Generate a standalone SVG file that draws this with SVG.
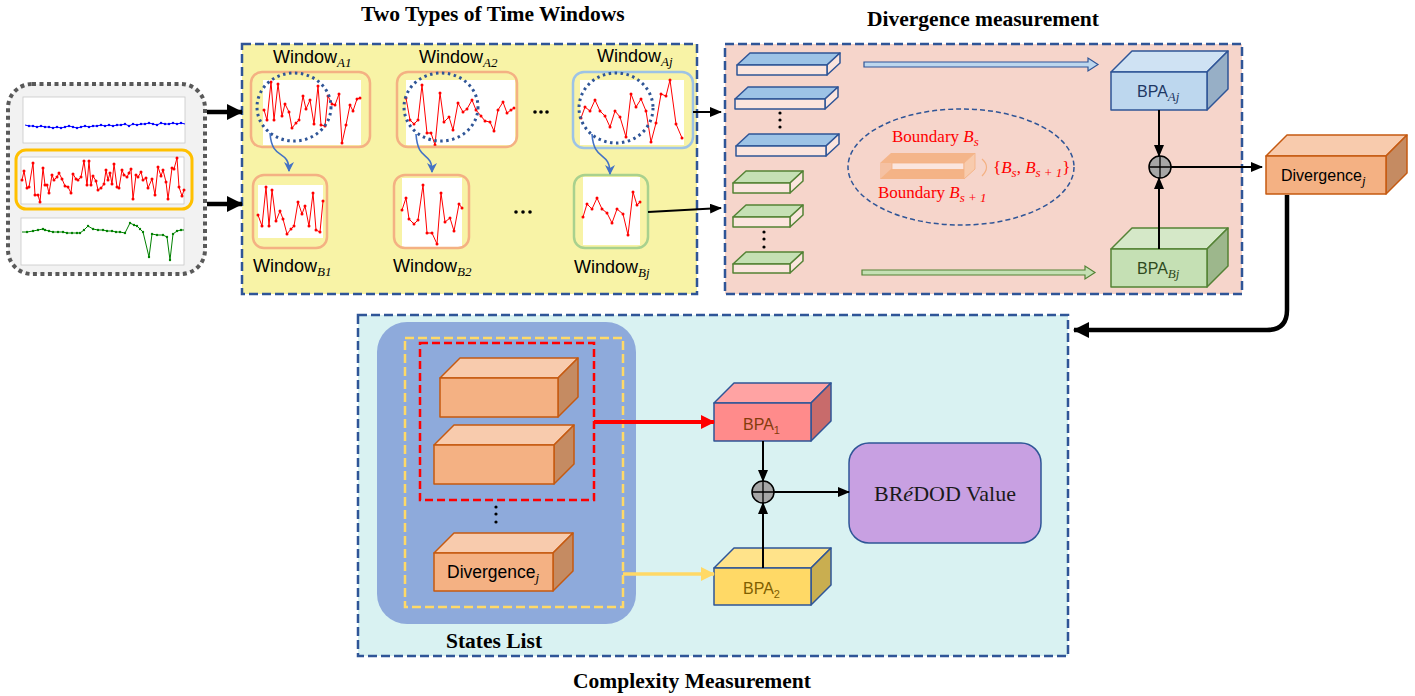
<svg xmlns="http://www.w3.org/2000/svg" width="1415" height="696" viewBox="0 0 1415 696">
  <style>
    .title { font-family: "Liberation Serif", "Times New Roman", serif; font-weight: bold; font-size: 21.5px; fill: #000; }
    .wlabel { font-family: "Liberation Sans", Arial, sans-serif; font-size: 18px; fill: #000; }
    .sub { font-family: "Liberation Serif", serif; font-style: italic; font-size: 13px; }
    .frame { fill: none; stroke: #2f5597; stroke-width: 2.5; stroke-dasharray: 9 4; }
    .win { fill: none; stroke: #f4b183; stroke-width: 2.5; }
    .chart { fill: #fff; }
    .grid { fill: #fff; stroke: #c8c8c8; stroke-width: 0.8; }
    .sig { fill: none; stroke: #ff0000; stroke-width: 1; marker-start: url(#dotR); marker-mid: url(#dotR); marker-end: url(#dotR); }
    .circ { fill: none; stroke: #2f5597; stroke-width: 3; stroke-dasharray: 2.5 3.5; }
    .bcurve { fill: none; stroke: #4472c4; stroke-width: 1.6; marker-end: url(#ahBlue); }
    .link { fill: none; stroke: #000; stroke-width: 2; marker-end: url(#ah); }
    .thick { fill: none; stroke: #000; stroke-width: 4.5; }
    .bpa { font-family: "Liberation Sans", Arial, sans-serif; font-size: 16px; }
    .bpa-lg { font-size: 17.5px; }
    .red { font-family: "Liberation Serif", "Times New Roman", serif; font-size: 17px; fill: #ff0000; }
    .plus { fill: #a6a6a6; stroke: #000; stroke-width: 1.5; }
  </style>
  <defs>
    <marker id="ah" markerUnits="userSpaceOnUse" markerWidth="12" markerHeight="10" refX="11" refY="5" orient="auto">
      <path d="M0,0 L12,5 L0,10 Z" fill="#000"/>
    </marker>
    <marker id="ahBig" markerUnits="userSpaceOnUse" markerWidth="16" markerHeight="16" refX="15" refY="8" orient="auto">
      <path d="M0,0 L16,8 L0,16 Z" fill="#000"/>
    </marker>
    <marker id="ahRed" markerUnits="userSpaceOnUse" markerWidth="14" markerHeight="14" refX="13" refY="7" orient="auto">
      <path d="M0,0 L14,7 L0,14 Z" fill="#ff0000"/>
    </marker>
    <marker id="ahYel" markerUnits="userSpaceOnUse" markerWidth="14" markerHeight="14" refX="13" refY="7" orient="auto">
      <path d="M0,0 L14,7 L0,14 Z" fill="#ffd966"/>
    </marker>
    <marker id="ahBlue" markerUnits="userSpaceOnUse" markerWidth="10" markerHeight="10" refX="5" refY="9" orient="0">
      <path d="M0,0 L5,10 L10,0 L5,3 Z" fill="#4472c4"/>
    </marker>
    <marker id="dotR" markerUnits="userSpaceOnUse" markerWidth="4" markerHeight="4" refX="2" refY="2">
      <circle cx="2" cy="2" r="1.5" fill="#ff0000"/>
    </marker>
    <marker id="dotB" markerUnits="userSpaceOnUse" markerWidth="4" markerHeight="4" refX="2" refY="2">
      <circle cx="2" cy="2" r="1.2" fill="#0000ff"/>
    </marker>
    <marker id="dotG" markerUnits="userSpaceOnUse" markerWidth="4" markerHeight="4" refX="2" refY="2">
      <circle cx="2" cy="2" r="1.2" fill="#008000"/>
    </marker>
  </defs>

  <rect width="1415" height="696" fill="#fff"/>

  <!-- input signals -->
  <g id="signals">
    <rect x="8" y="84" width="197" height="190" rx="24" fill="#f2f2f2" stroke="#595959" stroke-width="4" stroke-dasharray="4 3.5"/>
    <rect class="grid" x="23" y="97" width="162" height="46"/>
    <polyline fill="none" stroke="#0000ff" stroke-width="1" marker-mid="url(#dotB)" points="25,125 29,126 33,126 37,127 41,126 45,127 49,127 53,128 57,127 61,128 65,127 69,126 73,127 77,128 81,127 85,126 89,127 93,126 97,126 101,125 105,126 109,125 113,126 117,125 121,125 125,124 129,126 133,124 137,125 141,124 145,124 149,123 153,124 157,125 161,123 165,124 169,124 173,123 177,124 181,123 185,124"/>
    <rect x="16" y="150" width="176" height="59" rx="10" fill="none" stroke="#ffc000" stroke-width="3"/>
    <rect class="grid" x="21" y="157" width="163" height="47"/>
    <polyline class="sig" points="22,180 24,171 27,188 29,187 33,163 35,195 38,195 40,202 43,168 45,185 47,185 49,193 52,175 54,180 57,177 59,173 62,179 65,186 68,187 71,193 73,174 76,179 78,180 81,177 84,161 87,185 89,161 91,185 93,176 96,181 98,190 101,188 104,184 106,170 108,180 110,173 112,184 114,164 117,187 119,188 122,170 124,175 127,177 129,173 131,169 133,199 136,175 138,177 141,172 143,180 146,178 148,188 152,179 155,195 158,167 161,176 163,170 166,182 168,199 172,168 174,169 177,158 179,187 182,196 184,190"/>
    <rect class="grid" x="21" y="218" width="163" height="47"/>
    <polyline fill="none" stroke="#008000" stroke-width="1" marker-mid="url(#dotG)" points="22,232 27,232 33,231 38,230 43,229 45,230 49,231 53,232 58,232 63,232 67,233 72,233 77,233 80,233 84,230 88,226 93,229 98,230 103,230 107,231 112,231 116,232 120,232 125,233 130,223 134,225 137,226 140,229 143,232 149,257 152,234 157,235 163,235 167,237 170,260 173,234 177,231 181,230 184,230"/>
  </g>

  <!-- panel: two types of time windows -->
  <g id="time-windows">
    <rect x="242" y="44" width="455" height="250" fill="#f8f3a6"/>
    <rect class="frame" x="242" y="44" width="455" height="250"/>
    <text class="title" x="361" y="21">Two Types of Time Windows</text>
  </g>

  <g id="window-a1">
    <text class="wlabel" x="273" y="63">Window<tspan class="sub" dy="4">A1</tspan></text>
    <rect class="chart" x="263" y="80" width="98" height="65"/>
    <polyline class="sig" points="264,110 267,120 271,82 274,120 278,84 282,116 285,104 289,112 292,128 296,123 299,120 303,96 306,109 310,100 314,124 318,86 321,125 325,126 328,96 332,104 335,105 339,94 342,143 346,125 350,105 353,111 357,99 360,98"/>
    <rect class="win" x="251" y="72" width="119" height="75" rx="11"/>
    <ellipse class="circ" cx="294" cy="107" rx="37" ry="34"/>
  </g>
  <g id="window-a2">
    <text class="wlabel" x="419" y="63">Window<tspan class="sub" dy="4">A2</tspan></text>
    <rect class="chart" x="406" y="80" width="109" height="65"/>
    <polyline class="sig" points="406,98 410,120 414,124 418,120 422,85 427,133 431,133 435,145 440,93 444,122 449,117 453,130 458,103 463,112 467,109 472,100 476,110 481,116 485,121 490,122 494,131 498,110 503,102 507,113 511,110 514,108"/>
    <rect class="win" x="397" y="72" width="120" height="75" rx="11"/>
    <ellipse class="circ" cx="441" cy="107" rx="37" ry="34"/>
  </g>
  <g id="window-aj">
    <text class="wlabel" x="597" y="62">Window<tspan class="sub" dy="4">Aj</tspan></text>
    <rect class="chart" x="580" y="80" width="104" height="65"/>
    <polyline class="sig" points="581,118 585,107 590,111 595,100 600,111 605,116 610,127 615,111 620,117 626,137 631,94 636,107 641,99 646,111 651,142 656,123 661,94 666,96 670,80 676,124 682,138"/>
    <rect x="573" y="72" width="120" height="76" rx="11" fill="none" stroke="#9dc3e6" stroke-width="2.5"/>
    <ellipse class="circ" cx="616" cy="108" rx="37" ry="35"/>
  </g>
  <g id="window-b1">
    <rect class="chart" x="258" y="185" width="65" height="53"/>
    <polyline class="sig" points="258,215 262,226 266,187 269,226 272,190 276,221 280,211 283,219 287,234 291,229 294,226 298,202 302,214 305,206 309,226 313,193 316,230 320,232 323,201"/>
    <rect class="win" x="253" y="175" width="74" height="73" rx="11"/>
    <text class="wlabel" x="253" y="272">Window<tspan class="sub" dy="4">B1</tspan></text>
  </g>
  <g id="window-b2">
    <rect class="chart" x="402" y="178" width="60" height="69"/>
    <polyline class="sig" points="402,210 406,198 409,219 414,224 418,220 423,185 427,233 432,233 437,244 441,193 445,222 450,218 454,231 459,204 462,208"/>
    <rect class="win" x="394" y="175" width="75" height="73" rx="11"/>
    <text class="wlabel" x="393" y="272">Window<tspan class="sub" dy="4">B2</tspan></text>
  </g>
  <g id="window-bj">
    <rect class="chart" x="583" y="177" width="57" height="68"/>
    <polyline class="sig" points="583,217 587,204 592,209 597,198 602,209 607,213 612,223 617,209 623,214 628,235 633,192 637,205 640,202"/>
    <rect x="574" y="175" width="74" height="73" rx="11" fill="none" stroke="#a9d18e" stroke-width="2.5"/>
    <text class="wlabel" x="574" y="273">Window<tspan class="sub" dy="4">Bj</tspan></text>
  </g>
  <g id="ellipsis-windows" fill="#000">
    <circle cx="535" cy="112" r="1.8"/><circle cx="541" cy="112" r="1.8"/><circle cx="547" cy="112" r="1.8"/>
    <circle cx="516" cy="212" r="1.8"/><circle cx="523" cy="212" r="1.8"/><circle cx="530" cy="212" r="1.8"/>
  </g>

  <!-- panel: divergence measurement -->
  <g id="divergence-panel">
    <rect x="725" y="44" width="517" height="250" fill="#f6d5cb"/>
    <rect class="frame" x="725" y="44" width="517" height="250"/>
    <text class="title" x="867" y="26">Divergence measurement</text>
  </g>

  <g id="states-a" stroke="#2f5597" stroke-width="1.5" stroke-linejoin="round">
    <path d="M737,65 L750,53 L840,53 L827,65 Z" fill="#9dc3e6"/>
    <path d="M827,65 L840,53 L840,63 L827,75 Z" fill="#fbe5de"/>
    <rect x="737" y="65" width="90" height="10" fill="#fbe5de"/>
    <path d="M735,99 L748,87 L838,87 L825,99 Z" fill="#9dc3e6"/>
    <path d="M825,99 L838,87 L838,97 L825,109 Z" fill="#fbe5de"/>
    <rect x="735" y="99" width="90" height="10" fill="#fbe5de"/>
    <path d="M736,146 L749,134 L839,134 L826,146 Z" fill="#9dc3e6"/>
    <path d="M826,146 L839,134 L839,144 L826,156 Z" fill="#fbe5de"/>
    <rect x="736" y="146" width="90" height="10" fill="#fbe5de"/>
    <g fill="#000" stroke="none">
      <circle cx="780" cy="113" r="1.6"/><circle cx="780" cy="120" r="1.6"/><circle cx="780" cy="127" r="1.6"/>
    </g>
  </g>
  <g id="states-b" stroke="#548235" stroke-width="1.5" stroke-linejoin="round">
    <path d="M733,183 L746,171 L803,171 L790,183 Z" fill="#c5e0b4"/>
    <path d="M790,183 L803,171 L803,181 L790,193 Z" fill="#fbe5de"/>
    <rect x="733" y="183" width="57" height="10" fill="#fbe5de"/>
    <path d="M733,217 L746,205 L803,205 L790,217 Z" fill="#c5e0b4"/>
    <path d="M790,217 L803,205 L803,215 L790,227 Z" fill="#fbe5de"/>
    <rect x="733" y="217" width="57" height="10" fill="#fbe5de"/>
    <path d="M733,264 L746,252 L803,252 L790,264 Z" fill="#c5e0b4"/>
    <path d="M790,264 L803,252 L803,261 L790,273 Z" fill="#fbe5de"/>
    <rect x="733" y="264" width="57" height="9" fill="#fbe5de"/>
    <g fill="#000" stroke="none">
      <circle cx="764" cy="232" r="1.6"/><circle cx="764" cy="239" r="1.6"/><circle cx="764" cy="247" r="1.6"/>
    </g>
  </g>

  <g id="boundary">
    <ellipse cx="961" cy="167" rx="113" ry="58" fill="none" stroke="#2f5597" stroke-width="1.5" stroke-dasharray="5 3"/>
    <text class="red" x="892" y="142">Boundary <tspan font-style="italic">B</tspan><tspan font-style="italic" font-size="13" dy="4">s</tspan></text>
    <path d="M891,153 L975,153 L964,163 L880,163 Z" fill="#f4b183" fill-opacity="0.9"/>
    <rect x="880" y="163" width="84" height="16" fill="#f4b183" fill-opacity="0.55"/>
    <rect x="892" y="163" width="72" height="7" fill="#fbe5de" stroke="#f4b183" stroke-width="0.8"/>
    <path d="M880,179 L964,179 L975,169 L891,169 Z" fill="#f4b183" fill-opacity="0.9"/>
    <path d="M964,163 L975,153 L975,169 L964,179 Z" fill="#f8cbad" stroke="#f4b183" stroke-width="0.8"/>
    <path d="M982,159 Q991,167 982,176" fill="none" stroke="#f4b183" stroke-width="1.2"/>
    <text class="red" x="993" y="173">{<tspan font-style="italic">B</tspan><tspan font-style="italic" font-size="13" dy="4">s</tspan><tspan dy="-4">, </tspan><tspan font-style="italic">B</tspan><tspan font-style="italic" font-size="13" dy="4">s + 1</tspan><tspan dy="-4">}</tspan></text>
    <text class="red" x="878" y="198">Boundary <tspan font-style="italic">B</tspan><tspan font-style="italic" font-size="13" dy="4">s + 1</tspan></text>
  </g>

  <g id="transfer-arrows">
    <path d="M864,62 H1088 V58 L1098,64.5 L1088,71 V67 H864 Z" fill="#bdd7ee" stroke="#2f5597" stroke-width="1.2"/>
    <path d="M862,270 H1085 V266 L1095,272.5 L1085,279 V275 H862 Z" fill="#c5e0b4" stroke="#548235" stroke-width="1.2"/>
  </g>

  <g id="bpa-aj" stroke="#2f5597" stroke-width="1.5" stroke-linejoin="round">
    <path d="M1111,72 L1132,51 L1228,51 L1207,72 Z" fill="#cfe2f3"/>
    <path d="M1207,72 L1228,51 L1228,89 L1207,110 Z" fill="#97afc6"/>
    <rect x="1111" y="72" width="96" height="38" fill="#bdd7ee"/>
    <text class="bpa" x="1137" y="97" fill="#1f3864" stroke="none">BPA<tspan class="sub" dy="4">Aj</tspan></text>
  </g>
  <g id="bpa-bj" stroke="#548235" stroke-width="1.5" stroke-linejoin="round">
    <path d="M1111,249 L1132,228 L1228,228 L1207,249 Z" fill="#d5e8c8"/>
    <path d="M1207,249 L1228,228 L1228,266 L1207,287 Z" fill="#9db78c"/>
    <rect x="1111" y="249" width="96" height="38" fill="#c5e0b4"/>
    <text class="bpa" x="1137" y="274" fill="#2e4a1d" stroke="none">BPA<tspan class="sub" dy="4">Bj</tspan></text>
  </g>
  <g id="combine-top">
    <circle class="plus" cx="1160" cy="167" r="11"/>
    <path d="M1149,167 H1171 M1160,156 V178" stroke="#000" stroke-width="1.3"/>
  </g>
  <g id="divergence-j" stroke="#c55a11" stroke-width="1.5" stroke-linejoin="round">
    <path d="M1266,156 L1287,135 L1407,135 L1386,156 Z" fill="#f8cbad"/>
    <path d="M1386,156 L1407,135 L1407,173 L1386,194 Z" fill="#c58b62"/>
    <rect x="1266" y="156" width="120" height="38" fill="#f4b183"/>
    <text class="bpa" x="1281" y="181" fill="#000" stroke="none">Divergence<tspan class="sub" dy="4">j</tspan></text>
  </g>

  <!-- panel: complexity measurement -->
  <g id="complexity-panel">
    <rect x="358" y="315" width="710" height="341" fill="#d9f2f2"/>
    <rect class="frame" x="358" y="315" width="710" height="341"/>
    <text class="title" x="692" y="688" text-anchor="middle">Complexity Measurement</text>
  </g>
  <g id="states-list">
    <rect x="377" y="322" width="259" height="302" rx="30" fill="#8eaadb"/>
    <rect x="405" y="338" width="218" height="269" fill="none" stroke="#ffd966" stroke-width="2.5" stroke-dasharray="9 4"/>
    <rect x="420" y="343" width="174" height="157" fill="none" stroke="#ff0000" stroke-width="2.5" stroke-dasharray="8 4"/>
    <g stroke="#c55a11" stroke-width="1.5" stroke-linejoin="round">
      <path d="M440,378 L460,358 L578,358 L558,378 Z" fill="#f8cbad"/>
      <path d="M558,378 L578,358 L578,397 L558,417 Z" fill="#c58b62"/>
      <rect x="440" y="378" width="118" height="39" fill="#f4b183"/>
      <path d="M434,445 L454,425 L574,425 L554,445 Z" fill="#f8cbad"/>
      <path d="M554,445 L574,425 L574,464 L554,484 Z" fill="#c58b62"/>
      <rect x="434" y="445" width="120" height="39" fill="#f4b183"/>
      <path d="M434,553 L454,533 L573,533 L553,553 Z" fill="#f8cbad"/>
      <path d="M553,553 L573,533 L573,571 L553,591 Z" fill="#c58b62"/>
      <rect x="434" y="553" width="119" height="38" fill="#f4b183"/>
    </g>
    <text class="bpa bpa-lg" x="447" y="578" fill="#000">Divergence<tspan class="sub" dy="4">j</tspan></text>
    <g fill="#000">
      <circle cx="496" cy="507" r="1.6"/><circle cx="496" cy="514" r="1.6"/><circle cx="496" cy="522" r="1.6"/>
    </g>
    <text class="title" x="494" y="648" text-anchor="middle">States List</text>
  </g>
  <g id="bpa-1" stroke="#2f5597" stroke-width="1.5" stroke-linejoin="round">
    <path d="M714,403 L734,383 L831,383 L811,403 Z" fill="#ffa3a3"/>
    <path d="M811,403 L831,383 L831,421 L811,441 Z" fill="#c86b6b"/>
    <rect x="714" y="403" width="97" height="38" fill="#ff8b8b"/>
    <text class="bpa" x="743" y="430" fill="#843c0c" stroke="none">BPA<tspan font-size="11" dy="4">1</tspan></text>
  </g>
  <g id="bpa-2" stroke="#2f5597" stroke-width="1.5" stroke-linejoin="round">
    <path d="M714,568 L734,548 L831,548 L811,568 Z" fill="#ffe38a"/>
    <path d="M811,568 L831,548 L831,585 L811,605 Z" fill="#c9ae50"/>
    <rect x="714" y="568" width="97" height="37" fill="#ffd966"/>
    <text class="bpa" x="743" y="594" fill="#7f6000" stroke="none">BPA<tspan font-size="11" dy="4">2</tspan></text>
  </g>
  <g id="combine-bottom">
    <circle class="plus" cx="763" cy="492" r="11"/>
    <path d="M752,492 H774 M763,481 V503" stroke="#000" stroke-width="1.3"/>
  </g>
  <g id="bredod">
    <rect x="849" y="443" width="192" height="100" rx="20" fill="#c8a0e2" stroke="#2f5597" stroke-width="1.5"/>
    <text x="945" y="501" text-anchor="middle" font-family="Liberation Serif, Times New Roman, serif" font-size="22" fill="#1a1a1a">BR<tspan font-style="italic">é</tspan>DOD Value</text>
  </g>

  <!-- connectors -->
  <g id="connectors">
    <path class="thick" d="M207,112 H242" marker-end="url(#ahBig)"/>
    <path class="thick" d="M207,204 H242" marker-end="url(#ahBig)"/>
    <path class="bcurve" d="M270,133 C272,162 289,148 289,171"/>
    <path class="bcurve" d="M416,134 C418,163 432,150 432,172"/>
    <path class="bcurve" d="M592,134 C594,163 610,150 610,174"/>
    <path class="link" d="M693,112 H721"/>
    <path class="link" d="M648,212 L721,208"/>
    <path class="link" d="M1159,110 V156"/>
    <path class="link" d="M1159,249 V178"/>
    <path class="link" d="M1171,167 H1262"/>
    <path class="thick" d="M1287,195 V310 Q1287,330 1267,330 H1074" marker-end="url(#ahBig)"/>
    <path d="M594,422 H714" fill="none" stroke="#ff0000" stroke-width="4" marker-end="url(#ahRed)"/>
    <path d="M623,574 H714" fill="none" stroke="#ffd966" stroke-width="3.5" marker-end="url(#ahYel)"/>
    <path class="link" d="M763,441 V481"/>
    <path class="link" d="M763,568 V503"/>
    <path class="link" d="M774,492 H849"/>
  </g>
</svg>
